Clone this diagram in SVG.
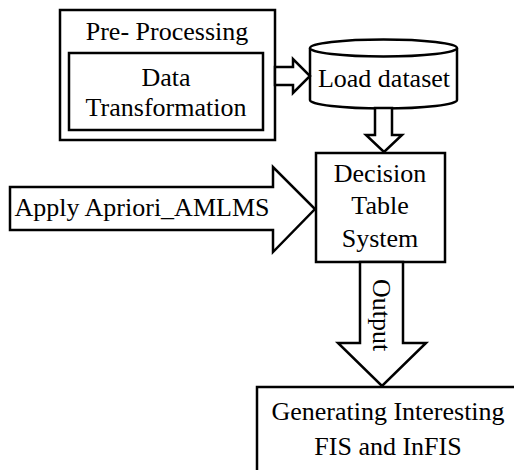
<svg xmlns="http://www.w3.org/2000/svg" width="514" height="470" viewBox="0 0 514 470">
<style>
.s{fill:#fff;stroke:#000;stroke-width:2.5;stroke-linejoin:miter}
.t{font-family:"Liberation Serif","Times New Roman",serif;font-size:26px;fill:#000;text-anchor:middle}
</style>
<rect width="514" height="470" fill="#fff"/>
<g id="preprocessing">
<rect class="s" x="60" y="10" width="215" height="130"/>
<text class="t" x="167" y="40">Pre- Processing</text>
</g>
<g id="data-transformation">
<rect class="s" x="69" y="53" width="194" height="77"/>
<text class="t" x="166" y="86">Data</text>
<text class="t" x="166" y="116">Transformation</text>
</g>
<g id="load-dataset">
<path class="s" d="M310,48 L310,100 A73.5,8.5 0 0 0 457,100 L457,48"/>
<ellipse class="s" cx="383.5" cy="48" rx="73.5" ry="8.5"/>
<text class="t" x="384" y="87">Load dataset</text>
</g>
<g id="decision-table">
<rect class="s" x="316" y="153" width="129" height="109"/>
<text class="t" x="380" y="182">Decision</text>
<text class="t" x="380" y="214">Table</text>
<text class="t" x="380" y="247">System</text>
</g>
<g id="generating">
<rect class="s" x="257" y="387" width="262" height="90"/>
<text class="t" x="388" y="420">Generating Interesting</text>
<text class="t" x="388" y="455">FIS and InFIS</text>
</g>
<g id="connectors">
<path class="s" d="M275,67 L293,67 L293,59 L310,76 L293,93 L293,85 L275,85 Z"/>
<path class="s" d="M375,108 L392,108 L392,135 L402,135 L384,152 L366,135 L375,135 Z"/>
<path class="s" d="M10,187 L273,187 L273,167 L315,209 L273,252 L273,230 L10,230 Z"/>
<text class="t" x="142" y="216">Apply Apriori_AMLMS</text>
<path class="s" d="M360,262 L403,262 L403,343 L426,343 L382,386 L338,343 L360,343 Z"/>
<text class="t" transform="translate(373,315) rotate(90)">Output</text>
</g>
</svg>
